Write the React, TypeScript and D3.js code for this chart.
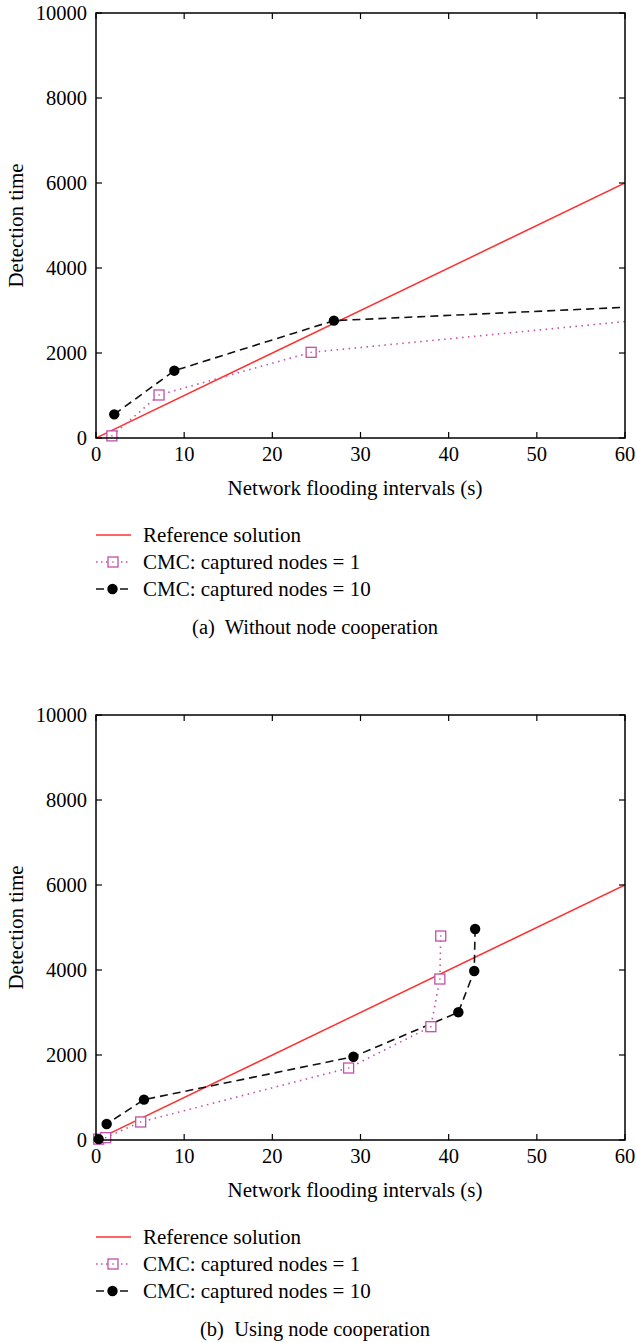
import React from "react";
import * as d3 from "d3";

const xTicks = [0, 10, 20, 30, 40, 50, 60];
const yTicks = [0, 2000, 4000, 6000, 8000, 10000];

const refX = [0, 60];
const refY = [0, 6000];

// (a) Without node cooperation
const a_cmc1X = [1.8, 7.15, 24.4, 60];
const a_cmc1Y = [50, 1012, 2016, 2740];
const a_cmc1Mark = [true, true, true, false];
const a_cmc10X = [2.07, 8.88, 26.98, 60];
const a_cmc10Y = [557, 1584, 2761, 3075];
const a_cmc10Mark = [true, true, true, false];

// (b) Using node cooperation
const b_cmc1X = [0.3, 1.1, 5.07, 28.65, 37.98, 39.0, 39.1];
const b_cmc1Y = [20, 55, 424, 1694, 2666, 3788, 4800];
const b_cmc1Mark = [true, true, true, true, true, true, true];
const b_cmc10X = [0.3, 1.21, 5.44, 29.2, 41.1, 42.9, 43.0];
const b_cmc10Y = [20, 376, 949, 1960, 3005, 3976, 4965];
const b_cmc10Mark = [true, true, true, true, true, true, true];

const legendLabels = ["Reference solution", "CMC: captured nodes = 1", "CMC: captured nodes = 10"];
const captions = ["(a)  Without node cooperation", "(b)  Using node cooperation"];
const xLabel = "Network flooding intervals (s)";
const yLabel = "Detection time";

const RED = "#ff3030";
const PINK = "#c050a8";
const FONT = "'Liberation Serif', 'Times New Roman', serif";

type PanelProps = {
  top: number;
  c1x: number[]; c1y: number[]; c1m: boolean[];
  c10x: number[]; c10y: number[]; c10m: boolean[];
  caption: string;
  id: string;
};

function Panel({ top, c1x, c1y, c1m, c10x, c10y, c10m, caption, id }: PanelProps) {
  const left = 96, right = 625;
  const pTop = top, pBottom = top + 425;
  const x = d3.scaleLinear().domain([0, 60]).range([left, right]);
  const y = d3.scaleLinear().domain([0, 10000]).range([pBottom, pTop]);
  const line = d3.line<[number, number]>().x(d => x(d[0])).y(d => y(d[1]));
  const ref = line(refX.map((v, i) => [v, refY[i]]));
  const l1 = line(c1x.map((v, i) => [v, c1y[i]]));
  const l10 = line(c10x.map((v, i) => [v, c10y[i]]));
  const tl = 6;
  const legY = pBottom + 97;
  const legStep = 27;
  const tickFs = 20.5;
  const labFs = 21;
  return (
    <g>
      <defs>
        <clipPath id={id}>
          <rect x={left} y={pTop} width={right - left} height={pBottom - pTop} />
        </clipPath>
      </defs>
      <g clipPath={`url(#${id})`}>
        <path d={ref!} fill="none" stroke={RED} strokeWidth={1.5} />
        <path d={l1!} fill="none" stroke={PINK} strokeWidth={1.6} strokeDasharray="1.5 4.5" />
        <path d={l10!} fill="none" stroke="#111" strokeWidth={1.6} strokeDasharray="8 5" />
      </g>
      {c1x.map((v, i) => c1m[i] ? (
        <g key={"s" + i}>
          <rect x={x(v) - 5} y={y(c1y[i]) - 5} width={10} height={10} fill="white" stroke={PINK} strokeWidth={1.3} />
          <rect x={x(v) - 0.7} y={y(c1y[i]) - 0.7} width={1.4} height={1.4} fill={PINK} />
        </g>
      ) : null)}
      {c10x.map((v, i) => c10m[i] ? (
        <circle key={"c" + i} cx={x(v)} cy={y(c10y[i])} r={5.2} fill="black" />
      ) : null)}
      <rect x={left} y={pTop} width={right - left} height={pBottom - pTop} fill="none" stroke="black" strokeWidth={1.5} />
      {xTicks.map(t => (
        <g key={"xt" + t}>
          <line x1={x(t)} x2={x(t)} y1={pBottom} y2={pBottom - tl} stroke="black" strokeWidth={1.2} />
          <line x1={x(t)} x2={x(t)} y1={pTop} y2={pTop + tl} stroke="black" strokeWidth={1.2} />
          <text x={x(t)} y={pBottom + 22.5} textAnchor="middle" fontSize={tickFs} fontFamily={FONT}>{t}</text>
        </g>
      ))}
      {yTicks.map(t => (
        <g key={"yt" + t}>
          <line x1={left} x2={left + tl} y1={y(t)} y2={y(t)} stroke="black" strokeWidth={1.2} />
          <line x1={right} x2={right - tl} y1={y(t)} y2={y(t)} stroke="black" strokeWidth={1.2} />
          <text x={left - 9} y={y(t) + 6.5} textAnchor="end" fontSize={tickFs} fontFamily={FONT}>{t}</text>
        </g>
      ))}
      <text x={355} y={pBottom + 57} textAnchor="middle" fontSize={labFs} fontFamily={FONT}>{xLabel}</text>
      <text transform={`translate(23,${(pTop + pBottom) / 2}) rotate(-90)`} textAnchor="middle" fontSize={labFs} fontFamily={FONT}>{yLabel}</text>
      {/* legend */}
      <g>
        <line x1={96} x2={131} y1={legY} y2={legY} stroke={RED} strokeWidth={1.3} />
        <text x={143} y={legY + 7} fontSize={labFs} fontFamily={FONT}>{legendLabels[0]}</text>
        <line x1={96} x2={131} y1={legY + legStep} y2={legY + legStep} stroke={PINK} strokeWidth={1.6} strokeDasharray="1.5 3.5" />
        <rect x={108} y={legY + legStep - 5} width={10} height={10} fill="white" stroke={PINK} strokeWidth={1.3} />
        <rect x={112.3} y={legY + legStep - 0.7} width={1.4} height={1.4} fill={PINK} />
        <text x={143} y={legY + legStep + 7} fontSize={labFs} fontFamily={FONT}>{legendLabels[1]}</text>
        <line x1={96} x2={130} y1={legY + 2 * legStep} y2={legY + 2 * legStep} stroke="#111" strokeWidth={1.6} strokeDasharray="8 16" />
        <circle cx={112.5} cy={legY + 2 * legStep} r={5.2} fill="black" />
        <text x={143} y={legY + 2 * legStep + 7} fontSize={labFs} fontFamily={FONT}>{legendLabels[2]}</text>
      </g>
      <text x={315} y={pBottom + 196} textAnchor="middle" fontSize={20.5} fontFamily={FONT} xmlSpace="preserve" style={{ whiteSpace: "pre" }}>{caption}</text>
    </g>
  );
}

export default function App() {
  return (
    <svg width={636} height={1343} style={{ position: "absolute", left: 0, top: 0, background: "white" }}>
      <rect x={0} y={0} width={636} height={1343} fill="white" />
      <Panel top={13} c1x={a_cmc1X} c1y={a_cmc1Y} c1m={a_cmc1Mark} c10x={a_cmc10X} c10y={a_cmc10Y} c10m={a_cmc10Mark} caption={captions[0]} id="clipA" />
      <Panel top={715} c1x={b_cmc1X} c1y={b_cmc1Y} c1m={b_cmc1Mark} c10x={b_cmc10X} c10y={b_cmc10Y} c10m={b_cmc10Mark} caption={captions[1]} id="clipB" />
    </svg>
  );
}
